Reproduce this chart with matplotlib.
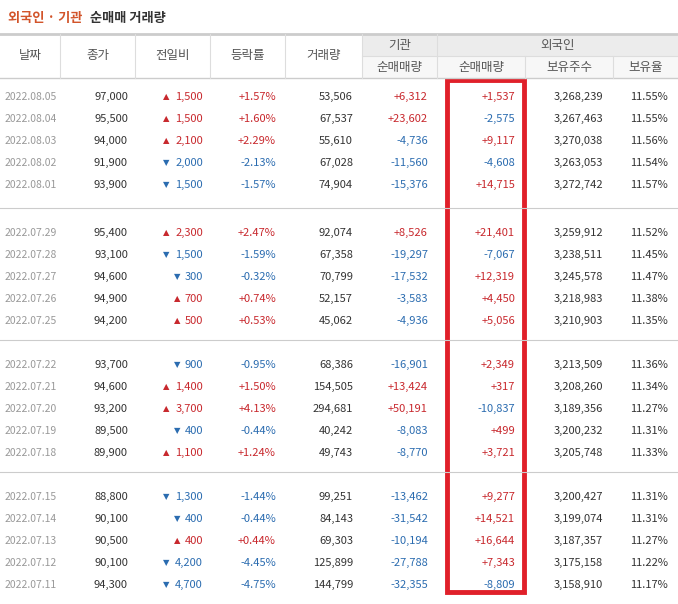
import matplotlib
matplotlib.use('Agg')
import matplotlib.pyplot as plt
from matplotlib import patches

plt.rcParams['font.family'] = ['Noto Sans CJK KR', 'DejaVu Sans']

dates = ['2022.08.05', '2022.08.04', '2022.08.03', '2022.08.02', '2022.08.01',
         '2022.07.29', '2022.07.28', '2022.07.27', '2022.07.26', '2022.07.25',
         '2022.07.22', '2022.07.21', '2022.07.20', '2022.07.19', '2022.07.18',
         '2022.07.15', '2022.07.14', '2022.07.13', '2022.07.12', '2022.07.11']
close = [97000, 95500, 94000, 91900, 93900, 95400, 93100, 94600, 94900, 94200,
         93700, 94600, 93200, 89500, 89900, 88800, 90100, 90500, 90100, 94300]
change = [1500, 1500, 2100, -2000, -1500, 2300, -1500, -300, 700, 500,
          -900, 1400, 3700, -400, 1100, -1300, -400, 400, -4200, -4700]
rate = [1.57, 1.60, 2.29, -2.13, -1.57, 2.47, -1.59, -0.32, 0.74, 0.53,
        -0.95, 1.50, 4.13, -0.44, 1.24, -1.44, -0.44, 0.44, -4.45, -4.75]
volume = [53506, 67537, 55610, 67028, 74904, 92074, 67358, 70799, 52157, 45062,
          68386, 154505, 294681, 40242, 49743, 99251, 84143, 69303, 125899, 144799]
inst_net = [6312, 23602, -4736, -11560, -15376, 8526, -19297, -17532, -3583, -4936,
            -16901, 13424, 50191, -8083, -8770, -13462, -31542, -10194, -27788, -32355]
foreign_net = [1537, -2575, 9117, -4608, 14715, 21401, -7067, 12319, 4450, 5056,
               2349, 317, -10837, 499, 3721, 9277, 14521, 16644, 7343, -8809]
foreign_hold = [3268239, 3267463, 3270038, 3263053, 3272742, 3259912, 3238511, 3245578,
                3218983, 3210903, 3213509, 3208260, 3189356, 3200232, 3205748,
                3200427, 3199074, 3187357, 3175158, 3158910]
foreign_pct = [11.55, 11.55, 11.56, 11.54, 11.57, 11.52, 11.45, 11.47, 11.38, 11.35,
               11.36, 11.34, 11.27, 11.31, 11.33, 11.31, 11.31, 11.27, 11.22, 11.17]

RED = '#c8282d'
BLUE = '#2b6cb0'
TXT = '#333333'

W, H = 678, 604
fig = plt.figure(figsize=(W / 100, H / 100), dpi=100)
ax = fig.add_axes([0, 0, 1, 1])
ax.set_xlim(0, W)
ax.set_ylim(H, 0)
ax.axis('off')

# title
ax.text(8, 18, '외국인 · 기관', color='#d2542a', fontsize=9.5, fontweight='bold', va='center')
ax.text(90, 18, '순매매 거래량', color=TXT, fontsize=9.5, fontweight='bold', va='center')

edges = [0, 60, 135, 210, 285, 362, 437, 525, 613, 678]
hy0, hy1, hy2 = 34, 56, 78
ax.add_patch(patches.Rectangle((362, hy0), W - 362, hy1 - hy0, color='#ececec', lw=0))
ax.add_patch(patches.Rectangle((362, hy1), W - 362, hy2 - hy1, color='#f7f7f7', lw=0))
ax.plot([0, W], [hy0, hy0], color='#cccccc', lw=2)
ax.plot([0, W], [hy2, hy2], color='#cccccc', lw=1)
ax.plot([362, W], [hy1, hy1], color='#dddddd', lw=0.8)
for x in edges[1:-1]:
    top = hy1 if x in (525, 613) else hy0
    ax.plot([x, x], [top, hy2], color='#dddddd', lw=0.8)

hdr = ['날짜', '종가', '전일비', '등락률', '거래량']
for i, h in enumerate(hdr):
    ax.text((edges[i] + edges[i + 1]) / 2, (hy0 + hy2) / 2, h, ha='center', va='center', fontsize=9, color='#555555')
ax.text((362 + 437) / 2, (hy0 + hy1) / 2, '기관', ha='center', va='center', fontsize=9, color='#555555')
ax.text((437 + W) / 2, (hy0 + hy1) / 2, '외국인', ha='center', va='center', fontsize=9, color='#555555')
for i, h in enumerate(['순매매량', '순매매량', '보유주수', '보유율']):
    ax.text((edges[i + 5] + edges[i + 6]) / 2, (hy1 + hy2) / 2, h, ha='center', va='center', fontsize=9, color='#555555')

def fmt_signed(v):
    return ('+' if v > 0 else '') + f'{v:,}'

group_start = [97, 233, 365, 497]
for i in range(len(dates)):
    g, k = divmod(i, 5)
    y = group_start[g] + k * 22
    ax.text(5, y, dates[i], ha='left', va='center', fontsize=7.5, color='#999999')
    ax.text(128, y, f'{close[i]:,}', ha='right', va='center', fontsize=8, color=TXT)
    c = RED if change[i] > 0 else BLUE
    ax.text(203, y, f'{abs(change[i]):,}', ha='right', va='center', fontsize=8, color=c)
    tx = 203 - 9 - 5.5 * len(f'{abs(change[i]):,}')
    ax.text(tx, y, '▲' if change[i] > 0 else '▼', ha='center', va='center', fontsize=6, color=c,
            family='DejaVu Sans')
    ax.text(276, y, f'{rate[i]:+.2f}%', ha='right', va='center', fontsize=8, color=c)
    ax.text(353, y, f'{volume[i]:,}', ha='right', va='center', fontsize=8, color=TXT)
    ax.text(428, y, fmt_signed(inst_net[i]), ha='right', va='center', fontsize=8,
            color=RED if inst_net[i] > 0 else BLUE)
    ax.text(515, y, fmt_signed(foreign_net[i]), ha='right', va='center', fontsize=8,
            color=RED if foreign_net[i] > 0 else BLUE)
    ax.text(603, y, f'{foreign_hold[i]:,}', ha='right', va='center', fontsize=8, color=TXT)
    ax.text(668, y, f'{foreign_pct[i]:.2f}%', ha='right', va='center', fontsize=8, color=TXT)

for ys in (208, 340, 472):
    ax.plot([0, W], [ys, ys], color='#cccccc', lw=0.8)

ax.add_patch(patches.Rectangle((447, 80), 77, 512, fill=False, edgecolor='#e0202a', lw=3.5))

fig.savefig('out.png', dpi=100)
